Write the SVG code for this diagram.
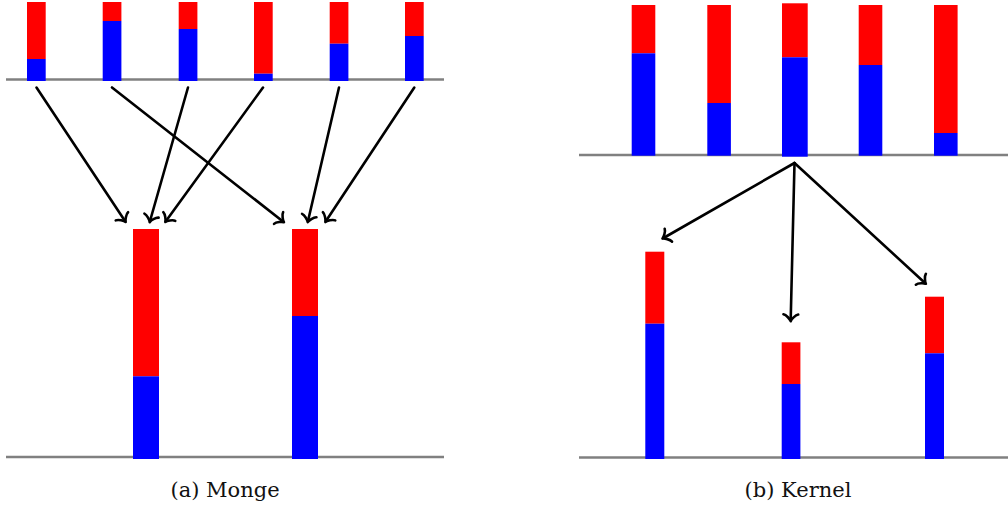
<svg xmlns="http://www.w3.org/2000/svg" width="1008" height="508" viewBox="0 0 1008 508">
<style>
.base{stroke:#808080;stroke-width:2.6;fill:none}
.r{fill:#ff0000}
.b{fill:#0000ff}
.arr{stroke:#000;stroke-width:2.6;fill:none;stroke-linecap:round;marker-end:url(#to)}
.cap{font-family:"DejaVu Serif","Liberation Serif",serif;font-size:21px;fill:#111;text-anchor:middle}
</style>
<defs>
<marker id="to" markerUnits="userSpaceOnUse" orient="auto" markerWidth="20" markerHeight="20" refX="0" refY="0" viewBox="-8 -10 12 20" overflow="visible">
<path d="M -5.6,-7.4 C -5.1,-4.5 -0.6,-0.6 1.2,0 C -0.6,0.6 -5.1,4.5 -5.6,7.4" stroke="#000" stroke-width="2.6" fill="none" stroke-linecap="round" stroke-linejoin="round"/>
</marker>
</defs>
<rect width="1008" height="508" fill="#fff"/>
<g id="baselines">
<line class="base" x1="6" y1="79.5" x2="444" y2="79.5"/>
<line class="base" x1="6" y1="457" x2="444" y2="457"/>
<line class="base" x1="579" y1="155" x2="1008" y2="155"/>
<line class="base" x1="579" y1="457.5" x2="1008" y2="457.5"/>
</g>
<g id="a-src1"><rect class="r" x="27" y="2" width="18.7" height="57"/><rect class="b" x="27" y="59" width="18.7" height="22"/></g>
<g id="a-src2"><rect class="r" x="102.7" y="2" width="18.7" height="19"/><rect class="b" x="102.7" y="21" width="18.7" height="60"/></g>
<g id="a-src3"><rect class="r" x="178.7" y="2" width="18.7" height="27"/><rect class="b" x="178.7" y="29" width="18.7" height="52"/></g>
<g id="a-src4"><rect class="r" x="254" y="2" width="18.7" height="71.7"/><rect class="b" x="254" y="73.7" width="18.7" height="7.3"/></g>
<g id="a-src5"><rect class="r" x="329.7" y="2" width="18.7" height="41.7"/><rect class="b" x="329.7" y="43.7" width="18.7" height="37.3"/></g>
<g id="a-src6"><rect class="r" x="405" y="2" width="18.7" height="34"/><rect class="b" x="405" y="36" width="18.7" height="45"/></g>
<g id="a-dst1"><rect class="r" x="133" y="229" width="26" height="147.3"/><rect class="b" x="133" y="376.3" width="26" height="82.7"/></g>
<g id="a-dst2"><rect class="r" x="292" y="229" width="26" height="87"/><rect class="b" x="292" y="316" width="26" height="143"/></g>
<g id="b-src1"><rect class="r" x="631.7" y="5" width="23.6" height="48.3"/><rect class="b" x="631.7" y="53.3" width="23.6" height="102.4"/></g>
<g id="b-src2"><rect class="r" x="707.3" y="5" width="23.6" height="98"/><rect class="b" x="707.3" y="103" width="23.6" height="52.7"/></g>
<g id="b-src3"><rect class="r" x="782" y="3.3" width="25.7" height="54"/><rect class="b" x="782" y="57.3" width="25.7" height="99.4"/></g>
<g id="b-src4"><rect class="r" x="858.7" y="5" width="23.6" height="60"/><rect class="b" x="858.7" y="65" width="23.6" height="90.7"/></g>
<g id="b-src5"><rect class="r" x="934" y="5" width="23.6" height="128"/><rect class="b" x="934" y="133" width="23.6" height="22.7"/></g>
<g id="b-dst1"><rect class="r" x="645.3" y="251.7" width="19" height="72"/><rect class="b" x="645.3" y="323.7" width="19" height="135.3"/></g>
<g id="b-dst2"><rect class="r" x="781.7" y="342.3" width="18.7" height="41.7"/><rect class="b" x="781.7" y="384" width="18.7" height="75"/></g>
<g id="b-dst3"><rect class="r" x="925" y="296.7" width="19" height="56.6"/><rect class="b" x="925" y="353.3" width="19" height="105.7"/></g>
<g id="connectors">
<line class="arr" x1="36.5" y1="87.5" x2="125" y2="221"/>
<line class="arr" x1="112" y1="87.5" x2="283" y2="221.5"/>
<line class="arr" x1="188" y1="87.5" x2="150" y2="221"/>
<line class="arr" x1="263" y1="87.5" x2="166" y2="221"/>
<line class="arr" x1="339" y1="87.5" x2="308" y2="221"/>
<line class="arr" x1="414.3" y1="87.5" x2="326" y2="221"/>
<line class="arr" x1="794.5" y1="163" x2="663.5" y2="238"/>
<line class="arr" x1="794.5" y1="163" x2="790.7" y2="320"/>
<line class="arr" x1="794.5" y1="163" x2="925" y2="283"/>
</g>
<text class="cap" x="225" y="497">(a) Monge</text>
<text class="cap" x="798" y="497">(b) Kernel</text>
</svg>
